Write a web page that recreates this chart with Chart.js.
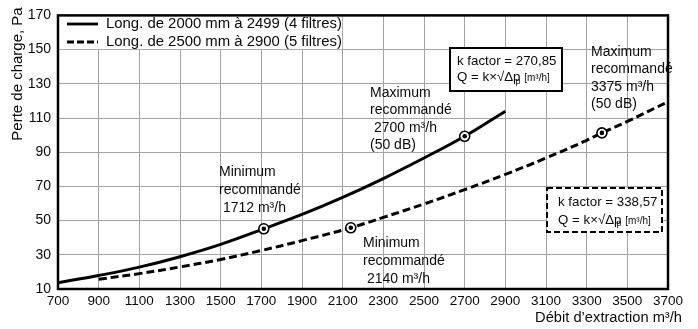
<!DOCTYPE html>
<html>
<head>
<meta charset="utf-8">
<script src="https://cdn.jsdelivr.net/npm/chart.js@4.4.1/dist/chart.umd.min.js"></script>
<style>
    html, body { margin: 0; padding: 0; background: #fff; }
</style>
</head>
<body>
<canvas id="perteChart" width="698" height="329"></canvas>
<script>
// debit (m3/h) and pressure loss (Pa)
const flows4 = [700, 900, 1100, 1300, 1500, 1712, 1900, 2100, 2300, 2500, 2700, 2900];
const loss4 = [13.7, 17.9, 22.8, 28.9, 36.1, 45.2, 53.6, 63.6, 74.6, 86.6, 99.3, 114.0];

const flows5 = [900, 1100, 1300, 1500, 1700, 1900, 2140, 2300, 2500, 2700, 2900, 3100, 3300, 3375, 3500, 3700];
const loss5 = [15.7, 19.0, 22.9, 27.3, 32.5, 38.3, 45.8, 51.9, 59.7, 68.1, 77.0, 86.6, 96.9, 101.3, 108.0, 119.5];

// recommended min / max points
const markFlows = [1712, 2700, 2140, 3375];
const markLoss = [45.2, 99.3, 45.8, 101.3];

const xTicks = [700, 900, 1100, 1300, 1500, 1700, 1900, 2100, 2300, 2500, 2700, 2900, 3100, 3300, 3500, 3700];
const yTicks = [10, 30, 50, 70, 90, 110, 130, 150, 170];

const seriesLabels = ["Long. de 2000 mm à 2499 (4 filtres)", "Long. de 2500 mm à 2900 (5 filtres)"];

const FONT = '"Liberation Sans", Arial, sans-serif';
const INK = "#0a0a0a";

function toPoints(xs, ys) {
    return xs.map(function (x, i) { return { x: x, y: ys[i] }; });
}

function textLines(ctx, lines, x, y, dy) {
    lines.forEach(function (t, i) { ctx.fillText(t, x, y + i * dy); });
}

function kFormula(ctx, x, y) {
    ctx.font = "13.3px " + FONT;
    const main = "Q = k×√Δp";
    ctx.fillText(main, x, y);
    let w = ctx.measureText(main).width;
    ctx.font = "9px " + FONT;
    ctx.fillText("p", x + w - 5, y + 4);
    ctx.font = "10px " + FONT;
    ctx.fillText(" [m³/h]", x + w + 1, y + 1);
}

const decor = {
    id: "decor",
    beforeDatasetsDraw(chart) {
        const ctx = chart.ctx;
        const a = chart.chartArea;
        const xs = chart.scales.x, ys = chart.scales.y;
        const gx = xs.getPixelForValue(2100);
        const gy = ys.getPixelForValue(150);
        ctx.save();
        ctx.fillStyle = "#fff";
        ctx.fillRect(a.left, a.top, gx - a.left - 0.5, gy - a.top - 0.5);

        // legend
        ctx.strokeStyle = "#000";
        ctx.lineWidth = 2.8;
        ctx.beginPath();
        ctx.moveTo(67, 24); ctx.lineTo(98, 24);
        ctx.stroke();
        ctx.setLineDash([7, 3]);
        ctx.beginPath();
        ctx.moveTo(67, 42); ctx.lineTo(98, 42);
        ctx.stroke();
        ctx.setLineDash([]);
        ctx.fillStyle = INK;
        ctx.font = "14.9px " + FONT;
        ctx.textBaseline = "middle";
        ctx.fillText(seriesLabels[0], 106, 24);
        ctx.fillText(seriesLabels[1], 106, 42);
        ctx.restore();
    },
    afterDatasetsDraw(chart) {
        const ctx = chart.ctx;
        const a = chart.chartArea;
        ctx.save();
        ctx.fillStyle = INK;
        ctx.textBaseline = "middle";
        ctx.font = "14px " + FONT;

        textLines(ctx, ["Minimum", "recommandé", " 1712 m³/h"], 219, 172, 18);
        textLines(ctx, ["Minimum", "recommandé", " 2140 m³/h"], 363, 243, 18);
        textLines(ctx, ["Maximum", "recommandé", " 2700 m³/h", "(50 dB)"], 370, 93, 17.5);
        textLines(ctx, ["Maximum", "recommandé", "3375 m³/h", "(50 dB)"], 591, 52, 17.5);

        // k factor boxes
        ctx.fillStyle = "#fff";
        ctx.strokeStyle = "#000";
        ctx.lineWidth = 2;
        ctx.fillRect(450, 48, 112, 43);
        ctx.strokeRect(450, 48, 112, 43);
        ctx.fillRect(547, 188, 115, 44);
        ctx.setLineDash([6, 3]);
        ctx.strokeRect(547, 188, 115, 44);
        ctx.setLineDash([]);

        ctx.fillStyle = INK;
        ctx.font = "13.3px " + FONT;
        ctx.fillText("k factor = 270,85", 457, 61);
        kFormula(ctx, 457, 77.5);
        ctx.font = "13.3px " + FONT;
        ctx.fillText("k factor = 338,57", 558, 202);
        kFormula(ctx, 558, 220);

        // axis titles
        ctx.font = "14.7px " + FONT;
        ctx.textAlign = "right";
        ctx.fillText("Débit d’extraction m³/h", 682, 318);
        ctx.translate(18, 74);
        ctx.rotate(-Math.PI / 2);
        ctx.textAlign = "center";
        ctx.font = "15px " + FONT;
        ctx.fillText("Perte de charge, Pa", 0, 0);
        ctx.restore();

        // frame
        ctx.save();
        ctx.strokeStyle = "#000";
        ctx.lineWidth = 2.5;
        ctx.strokeRect(a.left, a.top, a.right - a.left, a.bottom - a.top);
        ctx.restore();
    }
};

new Chart(document.getElementById("perteChart"), {
    type: "line",

    data: {
        datasets: [
            {
                label: "dots",
                data: toPoints(markFlows, markLoss),
                showLine: false,
                pointRadius: 2.3,
                pointBackgroundColor: "#000",
                pointBorderWidth: 0,
                order: 0,
            },
            {
                label: "rings",
                data: toPoints(markFlows, markLoss),
                showLine: false,
                pointRadius: 5,
                pointBackgroundColor: "#fff",
                pointBorderColor: "#000",
                pointBorderWidth: 1.6,
                order: 1,
            },
            {
                label: seriesLabels[0],
                data: toPoints(flows4, loss4),
                borderColor: "#000",
                borderWidth: 3,
                pointRadius: 0,
                tension: 0.4,
                order: 2,
            },
            {
                label: seriesLabels[1],
                data: toPoints(flows5, loss5),
                borderColor: "#000",
                borderWidth: 3,
                borderDash: [8, 4],
                pointRadius: 0,
                tension: 0.4,
                order: 2,
            },
        ],
    },

    options: {
        responsive: false,
        animation: false,
        layout: {
            padding: { top: 15, right: 30, left: 0, bottom: 0 },
        },
        plugins: {
            legend: { display: false },
            tooltip: { enabled: false },
        },
        scales: {
            x: {
                type: "linear",
                min: 700,
                max: 3700,
                afterBuildTicks: function (s) { s.ticks = xTicks.map(function (v) { return { value: v }; }); },
                afterFit: function (s) { s.height = 40; },
                grid: { color: "#a3a3a3", lineWidth: 1, tickLength: 0, drawTicks: false },
                border: { display: false },
                ticks: {
                    color: INK,
                    font: { family: FONT, size: 13.5 },
                    padding: 4,
                    maxRotation: 0,
                    autoSkip: false,
                    callback: function (v) { return String(v); },
                },
            },
            y: {
                min: 10,
                max: 170,
                afterBuildTicks: function (s) { s.ticks = yTicks.map(function (v) { return { value: v }; }); },
                afterFit: function (s) { s.width = 58; },
                grid: { color: "#a3a3a3", lineWidth: 1, tickLength: 0, drawTicks: false },
                border: { display: false },
                ticks: {
                    color: INK,
                    font: { family: FONT, size: 14 },
                    padding: 7,
                },
            },
        },
    },

    plugins: [decor],
});
</script>
</body>
</html>
